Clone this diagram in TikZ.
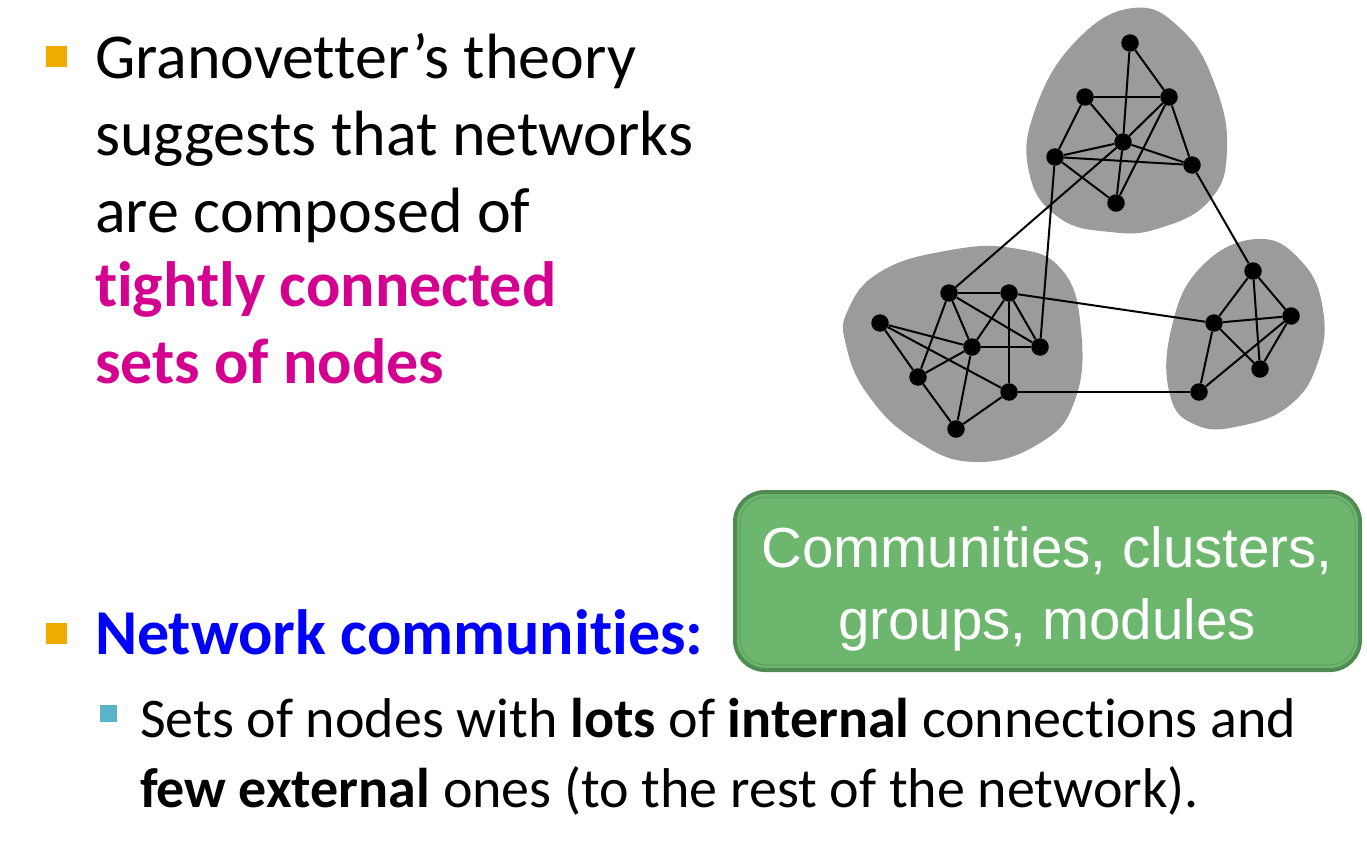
\documentclass[tikz,border=0pt]{standalone}
\usepackage{fontspec}
\setmainfont{Carlito}[Ligatures={NoCommon}]
\newfontfamily\boxfont{Liberation Sans}
\definecolor{bulletorange}{HTML}{F0AB00}
\definecolor{bulletteal}{HTML}{5AB4C9}
\definecolor{hotmagenta}{HTML}{D4008F}
\definecolor{pureblue}{HTML}{0000FF}
\definecolor{blobgray}{HTML}{9B9B9B}
\definecolor{boxfill}{HTML}{6CB66E}
\definecolor{boxedge}{HTML}{508C52}
\definecolor{boxinner}{HTML}{5E9E60}
\begin{document}
\begin{tikzpicture}[x=1pt,y=-1pt,
  vtx/.style={circle,fill=black,inner sep=0pt,minimum size=17.5pt},
  link/.style={line width=2pt,black},
  txt/.style={anchor=base west,inner sep=0pt,outer sep=0pt},
  bigtxt/.style={txt,font=\fontsize{64}{76}\selectfont},
  smalltxt/.style={txt,font=\fontsize{56}{70}\selectfont}]
\useasboundingbox (0,0) rectangle (1367,840);

% bullets
\fill[bulletorange] (46,46) rectangle (67,67);
\fill[bulletorange] (46,623) rectangle (67,644);
\fill[bulletteal] (100,705) rectangle (117,722);

% first bullet text
\node[bigtxt] (l1) at (95,79) {Granovetter’s theory};
\node[bigtxt] (l2) at (95,155) {suggests that networks};
\node[bigtxt] (l3) at (95,232) {are composed of};
\node[bigtxt,text=hotmagenta,font=\fontsize{64}{76}\selectfont\bfseries] (l4) at (95,306) {tightly connected};
\node[bigtxt,text=hotmagenta,font=\fontsize{64}{76}\selectfont\bfseries] (l5) at (95,383) {sets of nodes};

% second bullet
\node[bigtxt,text=pureblue,font=\fontsize{64}{76}\selectfont\bfseries] (nc) at (95,654) {Network communities:};
\node[smalltxt] (s1) at (140,737) {Sets of nodes with \textbf{lots} of \textbf{internal} connections and};
\node[smalltxt] (s2) at (140,807) {\textbf{few external} ones (to the rest of the network).};

% green label box
\draw[boxedge,line width=4pt,fill=boxfill,rounded corners=30pt] (735,492) rectangle (1360,670);
\draw[boxinner,line width=1pt,rounded corners=26pt] (740,497) rectangle (1355,665);
\node[text=white,font=\boxfont\fontsize{56.5}{72}\selectfont,align=center,inner sep=0pt] (cb) at (1047,589) {Communities, clusters,\\groups, modules};

% community blobs
\fill[blobgray] plot[smooth cycle,tension=0.75] coordinates {(1133,8) (1182,30) (1215,85) (1227,150) (1210,200) (1160,228) (1110,232) (1058,217) (1029,172) (1035,110) (1075,42)};
\fill[blobgray] plot[smooth cycle,tension=0.75] coordinates {(848,310) (880,272) (945,251) (1012,248) (1062,270) (1081,330) (1075,400) (1040,443) (975,462) (915,440) (868,395) (846,345)};
\fill[blobgray] plot[smooth cycle,tension=0.75] coordinates {(1257,239) (1302,262) (1323,310) (1318,362) (1290,405) (1240,426) (1196,425) (1170,395) (1171,330) (1200,268)};

% top community
\node[vtx] (t1) at (1130,43) {};
\node[vtx] (t2) at (1085,97) {};
\node[vtx] (t3) at (1169,97) {};
\node[vtx] (t4) at (1123,142) {};
\node[vtx] (t5) at (1055,157) {};
\node[vtx] (t6) at (1192,165) {};
\node[vtx] (t7) at (1116,203) {};

% left community
\node[vtx] (a1) at (949,293) {};
\node[vtx] (a2) at (1009,293) {};
\node[vtx] (a3) at (880,323) {};
\node[vtx] (a4) at (1040,347) {};
\node[vtx] (a5) at (972,347) {};
\node[vtx] (a6) at (918,377) {};
\node[vtx] (a7) at (1009,392) {};
\node[vtx] (a8) at (956,429) {};

% right community
\node[vtx] (r1) at (1253,271) {};
\node[vtx] (r2) at (1214,323) {};
\node[vtx] (r3) at (1291,316) {};
\node[vtx] (r4) at (1260,369) {};
\node[vtx] (r5) at (1199,392) {};

% edges inside top community
\foreach \u/\v in {t1/t3,t1/t4,t4/t7,t2/t3,t2/t4,t2/t5,t3/t4,t3/t6,t3/t7,t4/t5,t4/t6,t5/t6,t5/t7}
  \draw[link] (\u) -- (\v);
% edges inside left community
\foreach \u/\v in {a1/a2,a1/a5,a1/a4,a1/a6,a2/a5,a2/a4,a2/a7,a3/a5,a3/a6,a3/a7,a5/a4,a5/a6,a5/a8,a6/a8,a8/a7}
  \draw[link] (\u) -- (\v);
% edges inside right community
\foreach \u/\v in {r1/r2,r1/r3,r1/r4,r2/r3,r2/r4,r2/r5,r3/r4,r3/r5}
  \draw[link] (\u) -- (\v);
% edges between communities
\foreach \u/\v in {t4/a1,t5/a4,t6/r1,a2/r2,a7/r5}
  \draw[link] (\u) -- (\v);
\end{tikzpicture}
\end{document}
